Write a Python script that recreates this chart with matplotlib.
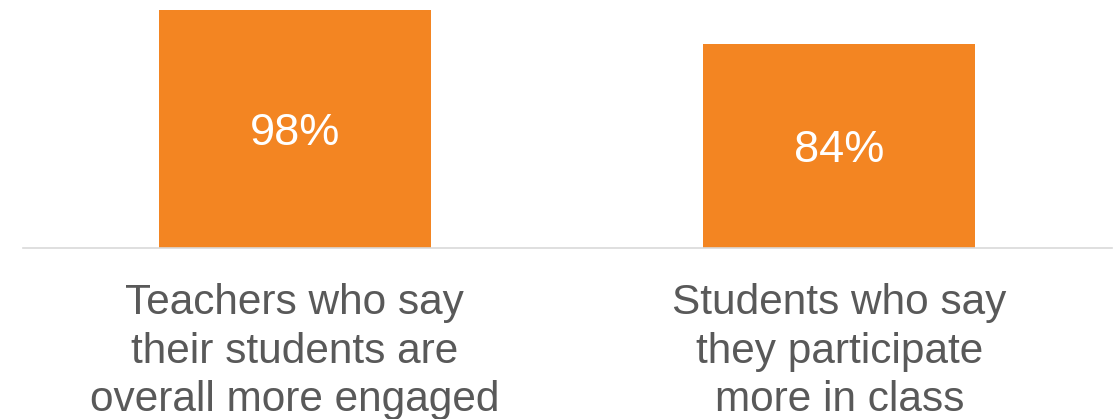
import matplotlib
matplotlib.use("Agg")
import matplotlib.pyplot as plt

categories = ["Teachers who say\ntheir students are\noverall more engaged",
              "Students who say\nthey participate\nmore in class"]
values = [98, 84]
value_labels = ["98%", "84%"]

plt.rcParams["font.family"] = ["Liberation Sans", "DejaVu Sans"]

fig = plt.figure(figsize=(11.17, 4.19), dpi=100)
# 轴区域：基线在 y=248px，左右 22~1112px
ax = fig.add_axes([22.5 / 1117, (419 - 248) / 419, 1089 / 1117, (248 - 5) / 419])

x = range(len(values))
bars = ax.bar(x, values, width=0.5, color="#F38522", edgecolor="none")
ax.set_xlim(-0.5, 1.5)
ax.set_ylim(0, 100)

for bar, lbl in zip(bars, value_labels):
    ax.annotate(lbl, (bar.get_x() + bar.get_width() / 2, bar.get_height() / 2),
                xytext=(0, -3), textcoords="offset points",
                ha="center", va="center", color="white", fontsize=32.5)

for i, cat in enumerate(categories):
    ax.text(i, -0.145, cat, transform=ax.get_xaxis_transform(),
            ha="center", va="top", color="#595959", fontsize=30.5, linespacing=1.27)

for s in ["top", "right", "left"]:
    ax.spines[s].set_visible(False)
ax.spines["bottom"].set_color("#D9D9D9")
ax.spines["bottom"].set_linewidth(1.2)
ax.set_xticks([])
ax.set_yticks([])

fig.savefig("out.png", dpi=100, facecolor="white")
plt.close(fig)
